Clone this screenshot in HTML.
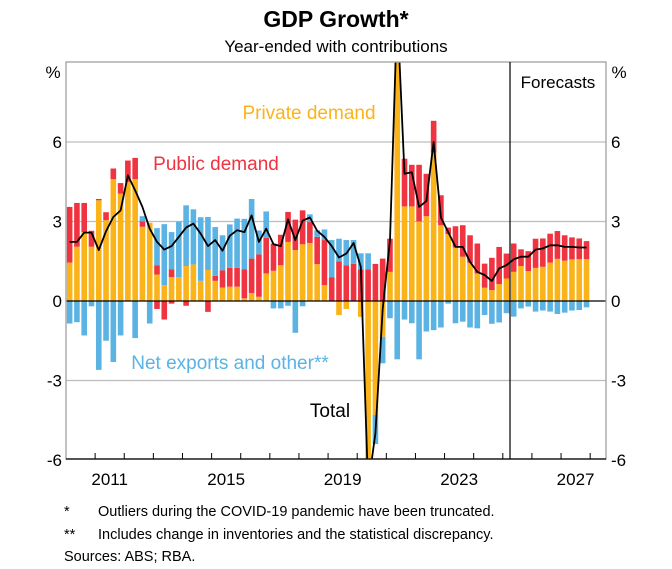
<!DOCTYPE html>
<html><head><meta charset="utf-8"><style>
body{margin:0;background:#fff;}
svg{display:block;font-family:"Liberation Sans",Arial,sans-serif;}
</style></head><body>
<svg id="c" width="672" height="569" xmlns="http://www.w3.org/2000/svg">
<rect width="672" height="569" fill="#fff"/>
<text x="336" y="27" text-anchor="middle" font-size="23" font-weight="bold">GDP Growth*</text>
<text x="336" y="52" text-anchor="middle" font-size="17">Year-ended with contributions</text>
<g id="grid"></g>
<defs><clipPath id="pc"><rect x="66" y="62" width="540" height="397"/></clipPath></defs>
<g id="bars" clip-path="url(#pc)"></g>
<g id="frame"></g>
<text x="53" y="78" text-anchor="middle" font-size="17">%</text>
<text x="619" y="78" text-anchor="middle" font-size="17">%</text>
<text x="558" y="88" text-anchor="middle" font-size="17">Forecasts</text>
<text x="309" y="119" text-anchor="middle" font-size="19" fill="#fbb31a">Private demand</text>
<text x="216" y="170" text-anchor="middle" font-size="19" fill="#ef3340">Public demand</text>
<text x="230" y="369" text-anchor="middle" font-size="19" fill="#5ab3e3">Net exports and other**</text>
<text x="330" y="417" text-anchor="middle" font-size="19">Total</text>
<text x="64" y="516" font-size="14.5">*</text>
<text x="98" y="516" font-size="14.5">Outliers during the COVID-19 pandemic have been truncated.</text>
<text x="64" y="539" font-size="14.5">**</text>
<text x="98" y="539" font-size="14.5">Includes change in inventories and the statistical discrepancy.</text>
<text x="64" y="561" font-size="14.5">Sources: ABS; RBA.</text>
</svg>
<script>
var NS="http://www.w3.org/2000/svg";
function el(p,t,a,txt){var e=document.createElementNS(NS,t);for(var k in a)e.setAttribute(k,a[k]);if(txt!==undefined)e.textContent=txt;document.getElementById(p).appendChild(e);return e;}
function Y(v){return 301-v*26.5;}
[6,3,-3].forEach(function(v){el("grid","line",{x1:66,x2:606,y1:Y(v),y2:Y(v),stroke:"#bdbdbd","stroke-width":1.2});});
var d=[
[1.45,2.1,0,-0.85],[2.05,1.65,0,-0.8],[2.6,1.1,0,-1.3],[2.05,0.6,0,-0.2],[3.8,0.05,0,-2.6],
[3.05,0.3,0,-1.5],[4.6,0.4,0,-2.3],[4.05,0.4,0,-1.3],[4.5,0.8,0,0],[4.6,0.8,0,-1.4],
[2.8,0.2,0.2,0],[2.95,0,0,-0.85],[1.0,0.35,1.4,0,-0.3],[0.6,0,2.3,0,-0.7],[0.9,0.3,1.4,0,-0.1],
[0.9,0,2.1,0],[1.32,0,2.29,0,-0.18],[1.38,0,2.08,0],[0.76,0,2.4,0],[1.17,0,2.0,0,-0.41],
[0.76,0.19,1.84,0],[0.51,0.65,1.32,0],[0.54,0.71,1.64,0],[0.54,0.71,1.86,0],[0.1,1.1,1.9,0],
[0.3,1.3,2.25,0],[0.16,1.6,0.9,0],[1.04,1.34,1.0,0],[1.14,1.03,0,-0.28],[1.35,1.15,0,-0.28],
[2.23,1.13,0,-0.18],[1.92,1.15,0,-1.2],[2.14,1.28,0,-0.2],[2.19,0.79,0.29,0],[1.39,1.03,0.25,0],
[0.6,1.7,0.4,0],[0,0.9,1.4,0],[0,1.5,0.85,0,0,-0.53],[0,1.35,0.95,0,0,-0.3],[0,1.4,0.9,0],
[0,1.2,0.6,0,0,-0.6],[0,1.2,0.6,0,0,-8],[0,1.4,0,-1.1,0,-4.3],[0,1.6,0,-1.0,0,-1.35],[1.1,1.25,0,-0.65],
[10,0,0,-2.2],[3.57,1.8,0,-0.7],[3.57,1.57,0,-0.84],[3.0,2.14,0,-2.2],[3.2,1.6,0,-1.15],
[5.6,1.2,0,-1.1],[2.86,1.13,0,-1.0],[2.52,0.25,0,-0.1],[2.02,0.8,0,-0.84],[1.67,1.19,0,-0.78],
[1.44,1.04,0,-1.0],[1.04,1.13,0,-1.03],[0.5,0.91,0,-0.53],[0.41,1.22,0,-0.86],[0.64,1.4,0,-0.81],
[0.85,0.94,0,-0.46],[1.1,1.07,0,-0.59],[1.32,0.63,0,-0.28],[1.13,0.75,0,-0.21],[1.25,1.1,0,-0.4],
[1.29,1.07,0,-0.36],[1.45,1.09,0,-0.4],[1.59,1.05,0,-0.49],[1.52,0.96,0,-0.44],[1.57,0.83,0,-0.36],
[1.58,0.78,0,-0.34],[1.58,0.68,0,-0.24]];
var L=[2.23,2.23,2.58,2.58,1.92,2.63,3.17,3.42,4.74,4.17,3.55,2.73,2.23,1.94,2.07,2.42,2.77,2.92,2.54,2.07,2.3,1.9,2.46,2.67,
2.6,3.23,2.23,2.73,2.14,2.07,3.08,2.3,3.03,3.15,2.65,2.42,2.07,1.64,1.79,2.19,1.29,
-7,-5,-0.3,2.3,11,4.8,4.86,3.55,3.77,6.0,3.15,2.6,2.04,2.04,1.48,1.1,0.98,0.76,1.23,1.35,1.57,1.67,1.67,1.94,1.98,2.1,2.1,2.04,2.04,2.02,2.02];
var OC="#fbb31a",RC="#ef3340",BC="#5ab3e3";
var pts=[];
d.forEach(function(r,i){
 var cx=66+7.28*(i+0.5), w=5.6, x=cx-w/2;
 var pos=0;
 [[r[0],OC],[r[1],RC],[r[2],BC]].forEach(function(s){if(s[0]>0){el("bars","rect",{x:x,width:w,y:Y(pos+s[0]),height:s[0]*26.5,fill:s[1]});pos+=s[0];}});
 var neg=0;
 [[r[5]||0,OC],[r[4]||0,RC],[r[3]||0,BC]].forEach(function(s){if(s[0]<0){el("bars","rect",{x:x,width:w,y:Y(neg),height:-s[0]*26.5,fill:s[1]});neg+=s[0];}});
 pts.push([cx,L[i]]);
});
el("bars","polyline",{points:pts.map(function(p){return p[0].toFixed(1)+","+Y(p[1]).toFixed(1);}).join(" "),fill:"none",stroke:"#000","stroke-width":1.8,"stroke-linejoin":"round"});
el("frame","line",{x1:66,x2:606,y1:Y(0),y2:Y(0),stroke:"#000","stroke-width":1.2});
el("frame","rect",{x:66,y:62,width:540,height:397,fill:"none",stroke:"#a0a0a0","stroke-width":1.3});
el("frame","line",{x1:66,x2:606,y1:459,y2:459,stroke:"#000","stroke-width":1.2});
el("frame","line",{x1:510,x2:510,y1:62,y2:459,stroke:"#000","stroke-width":1.2});
for(var k=1;k<=18;k++){var tx=66+29.12*k;el("frame","line",{x1:tx,x2:tx,y1:459,y2:453,stroke:"#000","stroke-width":1});}
[[6,"6"],[3,"3"],[0,"0"],[-3,"-3"],[-6,"-6"]].forEach(function(a){
 el("frame","text",{x:62,y:Y(a[0])+6,"text-anchor":"end","font-size":17},a[1]);
 el("frame","text",{x:611,y:Y(a[0])+6,"text-anchor":"start","font-size":17},a[1]);
});
["2011","2015","2019","2023","2027"].forEach(function(s,j){
 var cx=66+29.12*(1+4*j)+14.56;
 el("frame","text",{x:cx,y:485,"text-anchor":"middle","font-size":17},s);
});
</script>
</body></html>
